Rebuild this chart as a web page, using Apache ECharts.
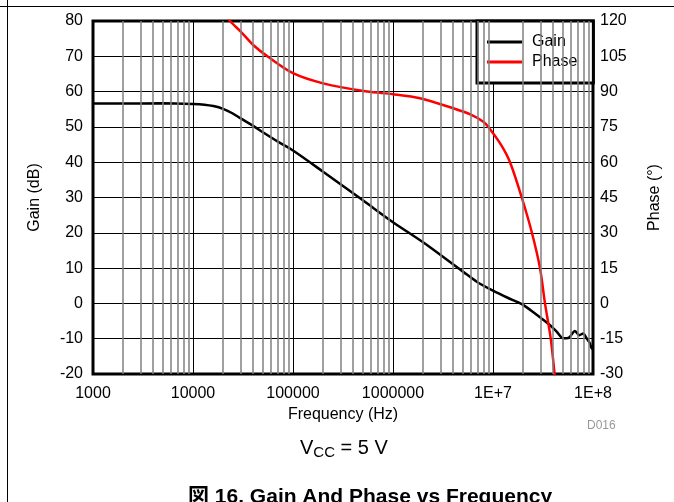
<!DOCTYPE html>
<html>
<head>
<meta charset="utf-8">
<script src="https://cdn.jsdelivr.net/npm/echarts@6/dist/echarts.min.js"></script>
<style>
html,body{margin:0;padding:0;background:#fff;}
#c{width:674px;height:502px;}
</style>
</head>
<body>
<div id="c"></div>
<script>
// ---- data ----
var gainFreq = [1000, 2000, 5000, 10000, 13000, 16000, 20000, 25000, 30000, 40000, 50000, 70000, 100000, 200000, 500000, 1000000, 2000000, 5000000, 7000000, 10000000, 14000000, 19400000, 24000000, 32000000, 37200000, 43300000, 50500000, 56700000, 66000000, 73000000, 80000000, 85000000, 92000000, 97000000, 100000000];
var gainDb   = [56.6, 56.6, 56.7, 56.5, 56.3, 55.9, 55.1, 53.8, 52.4, 50.3, 48.5, 45.9, 43.3, 37.3, 29.2, 23.0, 17.3, 9.0, 6.0, 3.6, 1.6, -0.2, -2.0, -4.7, -6.2, -8.0, -9.9, -9.8, -7.8, -9.0, -8.5, -9.6, -11.0, -12.7, -13.0];
var phaseFreq = [22000, 23400, 30000, 40000, 55400, 100000, 200000, 550000, 1000000, 1860000, 4000000, 6000000, 8000000, 8980000, 12000000, 14800000, 19400000, 24500000, 29500000, 33100000, 37800000, 41300000, 43000000];
var phaseDeg  = [122, 120, 115.5, 109.8, 105, 97.8, 93.5, 90, 88.9, 87.2, 82.9, 80.2, 77.2, 75, 67.5, 60, 45, 30, 15, 0, -15, -30, -37];
var xTickLabels = ['1000', '10000', '100000', '1000000', '1E+7', '1E+8'];
var minorGridFreqs = [];
[1000, 10000, 100000, 1000000, 10000000].forEach(function (d) {
  for (var k = 2; k <= 9; k++) minorGridFreqs.push(d * k);
});
var seriesNames = ['Gain', 'Phase'];

var FONT = '"Liberation Sans", Arial, "Noto Sans CJK JP", sans-serif';

function pairs(xs, ys) { return xs.map(function (x, i) { return [x, ys[i]]; }); }

var chart = echarts.init(document.getElementById('c'), null, {renderer: 'canvas'});
chart.setOption({
  animation: false,
  backgroundColor: '#fff',
  textStyle: {fontFamily: FONT},
  grid: {left: 93, right: 81, top: 21, bottom: 128, show: true, borderColor: '#000', borderWidth: 3, backgroundColor: 'transparent', containLabel: false},
  legend: {
    data: seriesNames,
    orient: 'vertical',
    left: 477, top: 21,
    padding: [13, 16, 13, 10],
    backgroundColor: '#fff',
    borderColor: '#000',
    borderWidth: 3,
    borderRadius: 0,
    icon: 'rect',
    itemWidth: 35, itemHeight: 3,
    itemGap: 4,
    textStyle: {fontSize: 16, color: '#000', lineHeight: 16, fontFamily: FONT, padding: [0, 0, 0, 5]},
    selectedMode: false
  },
  xAxis: {
    type: 'log', logBase: 10, min: 1000, max: 100000000, splitNumber: 5,
    name: 'Frequency (Hz)', nameLocation: 'middle', nameGap: 30,
    nameTextStyle: {fontSize: 16, color: '#000', fontFamily: FONT},
    axisLine: {show: false}, axisTick: {show: false},
    axisLabel: {fontSize: 16, color: '#000', margin: 12, fontFamily: FONT,
      formatter: function (v) { var i = Math.round(Math.log10(v)) - 3; return xTickLabels[i]; }},
    splitLine: {show: true, lineStyle: {color: '#000', width: 1}}
  },
  yAxis: [{
    type: 'value', min: -20, max: 80, interval: 10, position: 'left',
    name: 'Gain (dB)', nameLocation: 'middle', nameRotate: 90, nameGap: 50,
    nameTextStyle: {fontSize: 16, color: '#000', fontFamily: FONT},
    axisLine: {show: false}, axisTick: {show: false},
    axisLabel: {fontSize: 16, color: '#000', margin: 10, fontFamily: FONT},
    splitLine: {show: true, lineStyle: {color: '#000', width: 1}}
  }, {
    type: 'value', min: -30, max: 120, interval: 15, position: 'right',
    name: 'Phase (°)', nameLocation: 'middle', nameRotate: 90, nameGap: 54,
    nameTextStyle: {fontSize: 16, color: '#000', fontFamily: FONT},
    axisLine: {show: false}, axisTick: {show: false},
    axisLabel: {fontSize: 16, color: '#000', margin: 7, fontFamily: FONT},
    splitLine: {show: false}
  }],
  series: [{
    name: 'minor-grid', type: 'line', data: [], z: 1, silent: true,
    markLine: {
      silent: true, symbol: 'none', label: {show: false}, animation: false,
      lineStyle: {color: '#808080', width: 1.5, type: 'solid'},
      emphasis: {disabled: true},
      data: minorGridFreqs.map(function (f) { return {xAxis: f}; })
    }
  }, {
    name: 'Gain', type: 'line', yAxisIndex: 0, z: 3,
    data: pairs(gainFreq, gainDb),
    showSymbol: false, symbol: 'none', smooth: 0.3, clip: true,
    lineStyle: {color: '#000', width: 2.5}, itemStyle: {color: '#000'}
  }, {
    name: 'Phase', type: 'line', yAxisIndex: 1, z: 4,
    data: pairs(phaseFreq, phaseDeg),
    showSymbol: false, symbol: 'none', smooth: 0.3, clip: true,
    lineStyle: {color: '#ff0000', width: 2.5}, itemStyle: {color: '#ff0000'}
  }],
  graphic: [
    {type: 'line', shape: {x1: 0, y1: 6.5, x2: 674, y2: 6.5}, style: {stroke: '#000', lineWidth: 1}, silent: true},
    {type: 'line', shape: {x1: 7.5, y1: 0, x2: 7.5, y2: 502}, style: {stroke: '#000', lineWidth: 1}, silent: true},
    {type: 'text', x: 587, y: 420, silent: true,
      style: {text: 'D016', fontSize: 12, fontFamily: FONT, fill: '#999', verticalAlign: 'top'}},
    {type: 'text', x: 300, y: 436, silent: true,
      style: {text: '{v|V}{s|CC}{v| = 5 V}', fill: '#000', verticalAlign: 'top',
        rich: {v: {fontSize: 20, lineHeight: 24, fontFamily: FONT, fill: '#000'},
               s: {fontSize: 15, lineHeight: 15, fontFamily: FONT, fill: '#000', verticalAlign: 'bottom'}}}},
    {type: 'text', x: 188, y: 487, silent: true,
      style: {text: '図 16. Gain And Phase vs Frequency', fontSize: 21, fontWeight: 'bold', fontFamily: FONT, fill: '#000', verticalAlign: 'top'}}
  ]
});
</script>
</body>
</html>
